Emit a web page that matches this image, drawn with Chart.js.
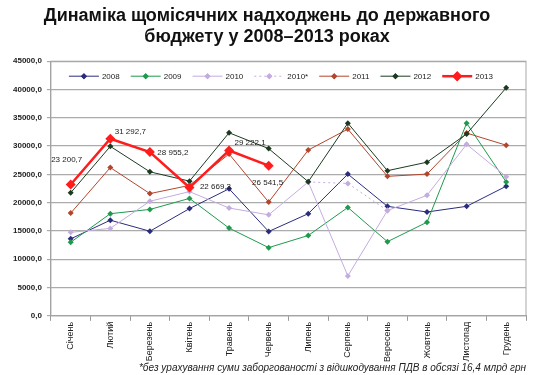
<!DOCTYPE html>
<html>
<head>
<meta charset="utf-8">
<script src="https://cdn.jsdelivr.net/npm/chart.js@4.4.1/dist/chart.umd.min.js"></script>
<style>
  html, body { margin: 0; padding: 0; background: #fff; }
  #wrap { width: 537px; height: 375px; }
</style>
</head>
<body>
<div id="wrap"><canvas id="budgetChart"></canvas></div>
<script>
// --- Monthly budget revenues 2008-2013 ---

const months = ['Січень', 'Лютий', 'Березень', 'Квітень', 'Травень', 'Червень',
    'Липень', 'Серпень', 'Вересень', 'Жовтень', 'Листопад', 'Грудень'];

const y2008 = [13600, 16900, 14950, 18950, 22450, 14900, 18050, 25050, 19350, 18350, 19350, 22900];
const y2009 = [13000, 18050, 18800, 20750, 15500, 12050, 14200, 19150, 13100, 16550, 34050, 23650];
const y2010 = [14750, 15450, 20250, 21950, 19050, 17850, 23650, 7050, 18600, 21300, 30300, 24600];
const y2010s = [null, null, null, null, null, null, 23650, 23400, 18600, null, null, null];
const y2011 = [18150, 26200, 21600, 23050, 28600, 20100, 29300, 33000, 24650, 25050, 32300, 30150];
const y2012 = [21750, 29950, 25450, 23800, 32350, 29550, 23700, 34050, 25650, 27150, 32150, 40300];
const y2013 = [23200.7, 31292.7, 28955.2, 22669.3, 29222.1, 26541.5, null, null, null, null, null, null];

const labels2013 = ['23 200,7', '31 292,7', '28 955,2', '22 669,3', '29 222,1', '26 541,5'];
const labelOffsets = [[-4, -25], [20, -7], [23, 1], [26, -1], [21, -8], [-1, 17]];

const footnote = '*без урахування суми заборгованості з відшкодування ПДВ в обсязі 16,4 млрд грн';

const FONT = '"Liberation Sans", Arial, sans-serif';

function line(label, data, color, extra) {
    return Object.assign({
        label: label,
        data: data,
        borderColor: color,
        backgroundColor: color,
        borderWidth: 1,
        pointStyle: 'rectRot',
        pointRadius: 3,
        pointBorderWidth: 0,
        tension: 0,
        spanGaps: false
    }, extra || {});
}

const datasets = [
    line('2008', y2008, '#2a2c7e', { order: 7 }),
    line('2009', y2009, '#1f9a4c', { order: 6 }),
    line('2010', y2010, '#c4acdf', { order: 5 }),
    line('2010*', y2010s, '#c4acdf', { order: 4, borderDash: [2, 3] }),
    line('2011', y2011, '#b3452b', { order: 3 }),
    line('2012', y2012, '#1d3a21', { order: 2 }),
    line('2013', y2013, '#ff1c1c', { order: 1, borderWidth: 2.5, pointRadius: 5 })
];

// frame + inline legend + 2013 value labels
const decorPlugin = {
    id: 'decor',
    beforeDatasetsDraw(chart) {
        const { ctx, chartArea: a } = chart;
        ctx.save();
        ctx.strokeStyle = '#a9a9a9';
        ctx.lineWidth = 1;
        ctx.strokeRect(a.left, a.top, a.right - a.left, a.bottom - a.top);
        ctx.restore();
    },
    afterDatasetsDraw(chart) {
        const { ctx, chartArea: a } = chart;
        ctx.save();

        // legend row inside plot
        ctx.font = '8px ' + FONT;
        ctx.textBaseline = 'middle';
        let x = a.left + 18;
        const y = a.top + 15;
        datasets.forEach(ds => {
            ctx.strokeStyle = ds.borderColor;
            ctx.lineWidth = ds.borderWidth;
            ctx.setLineDash(ds.borderDash || []);
            ctx.beginPath();
            ctx.moveTo(x, y);
            ctx.lineTo(x + 30, y);
            ctx.stroke();
            ctx.setLineDash([]);
            ctx.fillStyle = ds.borderColor;
            Chart.helpers.drawPoint(ctx, { pointStyle: 'rectRot', radius: ds.pointRadius, borderWidth: 0 }, x + 15, y);
            ctx.fill();
            ctx.fillStyle = '#222';
            ctx.fillText(ds.label, x + 33, y + 1);
            x += 33 + ctx.measureText(ds.label).width + 11;
        });

        // 2013 value labels
        const meta = chart.getDatasetMeta(6);
        ctx.font = '8px ' + FONT;
        ctx.textAlign = 'center';
        ctx.fillStyle = '#222';
        labels2013.forEach((txt, i) => {
            const p = meta.data[i];
            ctx.fillText(txt, p.x + labelOffsets[i][0], p.y + labelOffsets[i][1]);
        });
        ctx.restore();
    }
};

new Chart(document.getElementById('budgetChart'), {
    type: 'line',
    data: { labels: months, datasets: datasets },
    options: {
        responsive: true,
        maintainAspectRatio: false,
        animation: false,
        layout: { padding: { left: 8, right: 11, top: 0, bottom: 0 } },
        plugins: {
            legend: { display: false },
            tooltip: { enabled: false },
            title: {
                display: true,
                text: ['Динаміка щомісячних надходжень до державного', 'бюджету у 2008–2013 роках'],
                color: '#111',
                font: { family: FONT, size: 18, weight: 'bold', lineHeight: 1.2 },
                padding: { top: 5, bottom: 13 }
            },
            subtitle: {
                display: true,
                position: 'bottom',
                align: 'end',
                text: footnote,
                color: '#222',
                font: { family: FONT, size: 10, style: 'italic', lineHeight: 1.1 },
                padding: { top: 0, bottom: 1 }
            }
        },
        scales: {
            x: {
                offset: true,
                grid: { offset: true, drawOnChartArea: false, drawTicks: true, tickLength: 5, color: '#999' },
                border: { color: '#999' },
                ticks: {
                    color: '#222',
                    font: { family: FONT, size: 9 },
                    minRotation: 90,
                    maxRotation: 90,
                    padding: 1,
                    autoSkip: false
                }
            },
            y: {
                min: 0,
                max: 45000,
                grid: { color: '#ababab', lineWidth: 1.2, tickLength: 4 },
                border: { color: '#999' },
                ticks: {
                    stepSize: 5000,
                    color: '#222',
                    padding: 5,
                    font: { family: FONT, size: 8, weight: 'bold' },
                    callback: v => v.toFixed(1).replace('.', ',')
                }
            }
        }
    },
    plugins: [decorPlugin]
});
</script>
</body>
</html>
